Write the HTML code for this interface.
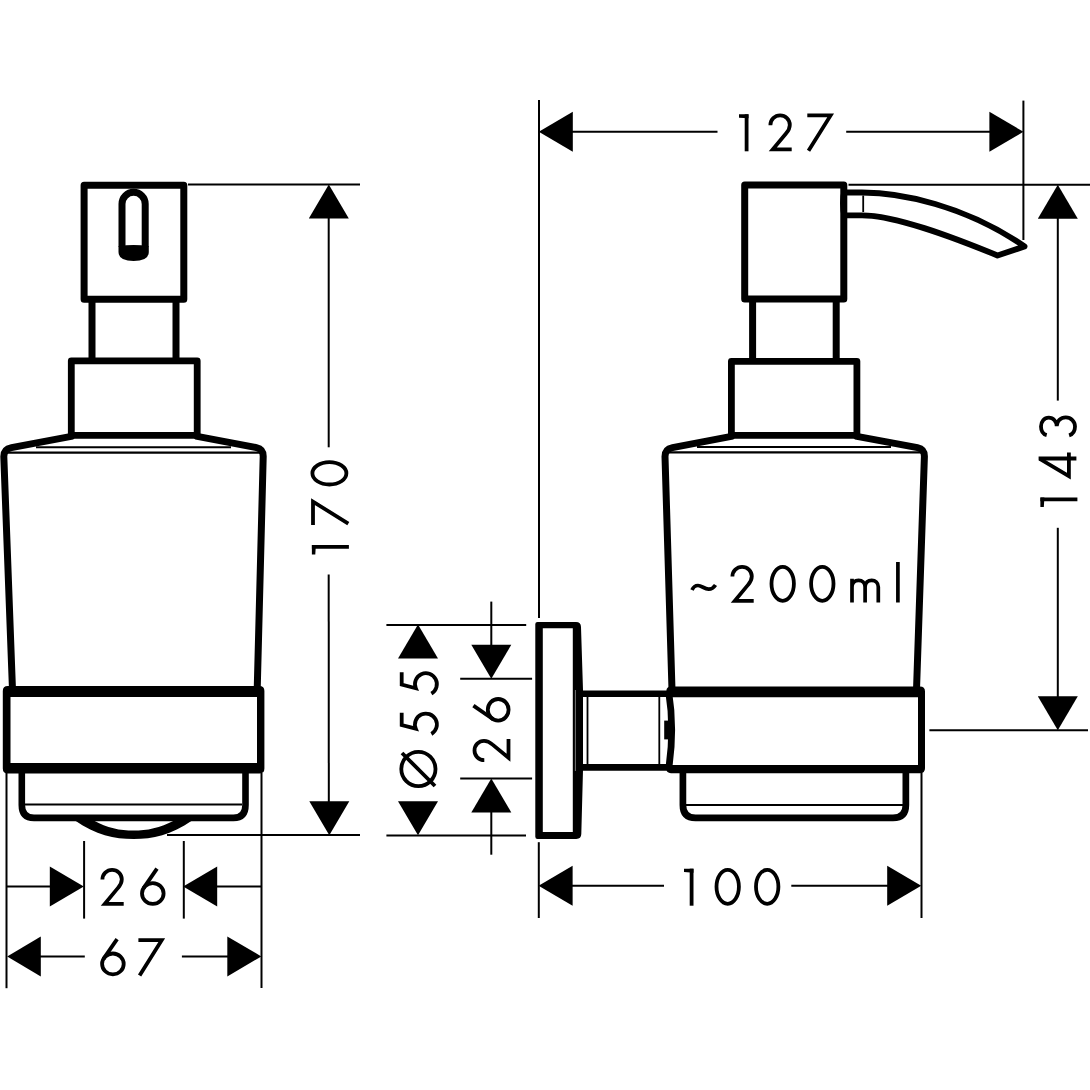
<!DOCTYPE html>
<html><head><meta charset="utf-8"><title>Soap dispenser drawing</title>
<style>
html,body{margin:0;padding:0;background:#fff;width:1090px;height:1090px;overflow:hidden;font-family:"Liberation Sans",sans-serif;}
svg{display:block;}
</style></head>
<body>
<svg width="1090" height="1090" viewBox="0 0 1090 1090" stroke="#000" stroke-linecap="butt" fill="none">
<rect x="0" y="0" width="1090" height="1090" fill="#fff" stroke="none"/>
<path d="M84.1,185.2 H183.8 V299.3 H84.1 Z" stroke-width="7.0" fill="none" stroke-linejoin="round"/>
<path d="M122,247 V203.9 A11.6,11.6 0 0 1 145.2,203.9 V247" stroke-width="7" fill="none" />
<path d="M118.5,246.3 Q133.6,243.6 148.8,246.3 V252 Q148.8,261 133.6,261 Q118.5,261 118.5,252 Z" stroke-width="0" fill="#000" stroke="none"/>
<line x1="92" y1="299" x2="92" y2="361" stroke-width="7.0"/>
<line x1="176" y1="299" x2="176" y2="361" stroke-width="7.0"/>
<path d="M71.3,435.3 V360.8 H197.2 V435.3 Z" stroke-width="6.8" fill="none" stroke-linejoin="round"/>
<path d="M71.3,436.4 L11.5,447.6 Q3.8,449 3.8,456.5 L12.5,690" stroke-width="7" fill="none" stroke-linecap="round"/>
<path d="M197.2,436.4 L256.5,447.6 Q263.3,449 263.2,456.5 L257.2,690" stroke-width="7" fill="none" stroke-linecap="round"/>
<line x1="36" y1="447.2" x2="231" y2="447.2" stroke-width="2.0"/>
<line x1="7" y1="452.6" x2="260" y2="452.6" stroke-width="2.2"/>
<path d="M7.8,686 H259.4 Q264.4,686 264.4,691 V768.5 Q264.4,773.5 259.4,773.5 H7.8 Q2.8,773.5 2.8,768.5 V691 Q2.8,686 7.8,686 Z M10.5,697 H257 V763 H10.5 Z" fill="#000" stroke="none" fill-rule="evenodd"/>
<path d="M21.8,772 V805 Q21.8,817.9 34,817.9 H233.5 Q245.5,817.9 245.5,805 V772" stroke-width="6.6" fill="none" />
<line x1="25" y1="804.6" x2="242" y2="804.6" stroke-width="2.0"/>
<path d="M75,820.5 C96,835 114,839 133.6,839 C153,839 171,835 192.1,820.5 L174.2,820.5 C160,828 147,830.6 133.6,830.6 C120,830.6 107,828 93.7,820.5 Z" stroke-width="0" fill="#000" stroke="none"/>
<line x1="188" y1="184.4" x2="360" y2="184.4" stroke-width="2.0"/>
<line x1="167" y1="835" x2="360" y2="835" stroke-width="2.0"/>
<polygon points="328.8,184.4 308.8,218.4 348.8,218.4" fill="#000" stroke="none"/>
<polygon points="329.3,835.2 309.3,801.2 349.3,801.2" fill="#000" stroke="none"/>
<line x1="328.7" y1="215" x2="328.7" y2="447.3" stroke-width="2.0"/>
<line x1="328.7" y1="574.5" x2="328.8" y2="805" stroke-width="2.0"/>
<g transform="translate(310.5,486.4) rotate(-90)" stroke-width="3.8" fill="none"><ellipse cx="13.1" cy="18.9" rx="11.2" ry="17.0"/></g>
<g transform="translate(311.1,524.9) rotate(-90)" stroke-width="3.8" fill="none"><path d="M0,1.9 H23.3 L1.2,37.2" stroke-linejoin="miter"/></g>
<g transform="translate(311.1,554.4) rotate(-90)" stroke-width="3.8" fill="none"><path d="M7.6,0.8 V37.8"/><polygon points="0,0.8 9.5,0.8 9.5,4.8 0,4.2" fill="#000" stroke="none"/></g>
<line x1="6.5" y1="773" x2="6.5" y2="988.2" stroke-width="2.0"/>
<line x1="261.5" y1="773" x2="261.5" y2="988" stroke-width="2.0"/>
<line x1="84.1" y1="841" x2="84.1" y2="918.6" stroke-width="2.0"/>
<line x1="183.8" y1="841" x2="183.8" y2="918.6" stroke-width="2.0"/>
<line x1="6.5" y1="886.5" x2="52" y2="886.5" stroke-width="2.0"/>
<polygon points="83.8,886.5 49.8,866.5 49.8,906.5" fill="#000" stroke="none"/>
<polygon points="183.2,886.5 217.2,866.5 217.2,906.5" fill="#000" stroke="none"/>
<line x1="215" y1="886.5" x2="261.5" y2="886.5" stroke-width="2.0"/>
<g transform="translate(100.5,867.9)" stroke-width="3.8" fill="none"><path d="M1.9,11.7 C1.9,6.1 6.3,1.9 11.6,1.9 C16.9,1.9 21.3,6.1 21.3,11.4 C21.3,14.9 19.7,17.5 17.5,20 L4.3,35.9 H23.2" stroke-linejoin="miter"/></g>
<g transform="translate(140.1,867.9)" stroke-width="3.8" fill="none"><ellipse cx="12.7" cy="25.6" rx="10.8" ry="10.4"/><path d="M16.9,0.8 L3.3,20.5"/></g>
<line x1="39" y1="956.4" x2="84.8" y2="956.4" stroke-width="2.0"/>
<line x1="181.9" y1="956.4" x2="229" y2="956.4" stroke-width="2.0"/>
<polygon points="7.2,956.4 40.8,936.4 40.8,976.4" fill="#000" stroke="none"/>
<polygon points="261.3,956.4 227.3,936.4 227.3,976.4" fill="#000" stroke="none"/>
<g transform="translate(100.2,938.3)" stroke-width="3.8" fill="none"><ellipse cx="12.7" cy="25.6" rx="10.8" ry="10.4"/><path d="M16.9,0.8 L3.3,20.5"/></g>
<g transform="translate(138.4,938.3)" stroke-width="3.8" fill="none"><path d="M0,1.9 H23.3 L1.2,37.2" stroke-linejoin="miter"/></g>
<line x1="386.4" y1="625.0" x2="526.2" y2="625.0" stroke-width="2.0"/>
<line x1="386.4" y1="835.6" x2="526.0" y2="835.6" stroke-width="2.0"/>
<polygon points="418.0,624.4 398.0,658.4 438.0,658.4" fill="#000" stroke="none"/>
<polygon points="418.0,835.2 398.0,801.2 438.0,801.2" fill="#000" stroke="none"/>
<g transform="translate(399.8,696.6) rotate(-90)" stroke-width="3.8" fill="none"><path d="M24.3,1.9 H12 L8.3,16 A10.95,10.95 0 1 1 3,31.6" stroke-linejoin="miter"/></g>
<g transform="translate(399.8,737.0) rotate(-90)" stroke-width="3.8" fill="none"><path d="M24.3,1.9 H12 L8.3,16 A10.95,10.95 0 1 1 3,31.6" stroke-linejoin="miter"/></g>
<circle cx="418.4" cy="769" r="17.1" stroke-width="3.8" fill="none"/>
<line x1="402.0" y1="753.0" x2="435.0" y2="786.0" stroke-width="3.8"/>
<line x1="460.2" y1="678.7" x2="532.1" y2="678.7" stroke-width="2.0"/>
<line x1="460.2" y1="778.4" x2="532.1" y2="778.4" stroke-width="2.0"/>
<line x1="491.3" y1="601.6" x2="491.3" y2="650" stroke-width="2.0"/>
<polygon points="491.3,678.7 471.3,644.7 511.3,644.7" fill="#000" stroke="none"/>
<polygon points="491.3,778.4 471.3,812.4 511.3,812.4" fill="#000" stroke="none"/>
<line x1="491.3" y1="808" x2="491.3" y2="854.7" stroke-width="2.0"/>
<g transform="translate(472.6,722.5) rotate(-90)" stroke-width="3.8" fill="none"><ellipse cx="12.7" cy="25.6" rx="10.8" ry="10.4"/><path d="M16.9,0.8 L3.3,20.5"/></g>
<g transform="translate(472.6,762.1) rotate(-90)" stroke-width="3.8" fill="none"><path d="M1.9,11.7 C1.9,6.1 6.3,1.9 11.6,1.9 C16.9,1.9 21.3,6.1 21.3,11.4 C21.3,14.9 19.7,17.5 17.5,20 L4.3,35.9 H23.2" stroke-linejoin="miter"/></g>
<path d="M535.3,624 Q535.3,621.9 537.5,621.9 H576 Q580.9,621.9 581,627 L583,690 L583,770 L581.3,834 Q581.2,838.9 576.3,838.9 H537.5 Q535.3,838.9 535.3,836.7 Z M542.8,628.2 H572.8 V831.9 H542.8 Z" fill="#000" stroke="none" fill-rule="evenodd"/>
<line x1="575.4" y1="690" x2="575.4" y2="771" stroke="#777" stroke-width="1"/>
<line x1="539.0" y1="100" x2="539.0" y2="618" stroke-width="2.0"/>
<line x1="538.8" y1="842.2" x2="538.8" y2="918" stroke-width="2.0"/>
<path d="M579,693.7 H668 M579,767.4 H668" stroke-width="6.6" fill="none" />
<line x1="587.5" y1="697" x2="587.5" y2="764" stroke-width="1.8"/>
<line x1="659.3" y1="697" x2="659.3" y2="764" stroke-width="1.8"/>
<path d="M744.7,185 H843.8 V299 H744.7 Z" stroke-width="7.0" fill="none" stroke-linejoin="round"/>
<line x1="752.6" y1="299" x2="752.6" y2="361" stroke-width="7.0"/>
<line x1="836.2" y1="299" x2="836.2" y2="361" stroke-width="7.0"/>
<path d="M731.4,435.3 V361.3 H856.9 V435.3 Z" stroke-width="6.8" fill="none" stroke-linejoin="round"/>
<path d="M731.4,436.4 L672.5,447.6 Q665,449 665,456.5 L672,690" stroke-width="7" fill="none" stroke-linecap="round"/>
<path d="M856.9,436.4 L917.5,447.6 Q924.5,449 924.4,456.5 L916.5,690" stroke-width="7" fill="none" stroke-linecap="round"/>
<line x1="697" y1="447.0" x2="891" y2="447.0" stroke-width="2.0"/>
<line x1="668" y1="452.4" x2="921" y2="452.4" stroke-width="2.2"/>
<path d="M671,686.4 H920 Q925,686.4 925,691.4 V768.2 Q925,773.2 920,773.2 H671 Q666.4,773.2 666.4,768.6 V765 H918 V697.2 H666.4 V691 Q666.4,686.4 671,686.4 Z" fill="#000" stroke="none" fill-rule="evenodd"/>
<path d="M668.6,691 Q674.8,729.5 668.6,769" stroke-width="6.8" fill="none" />
<rect x="664.2" y="720.6" width="5.5" height="18.8" fill="#000" stroke="none"/>
<path d="M682.9,772 V805 Q682.9,817.85 695.5,817.85 H893 Q905.85,817.85 905.85,805 V772" stroke-width="6.7" fill="none" />
<line x1="686" y1="805.1" x2="903" y2="805.1" stroke-width="2.0"/>
<path d="M844,192.5 H862 C900,192.5 965,205 1024.5,246.5 L997.5,255.5 C950,236 895,215.3 862,215.3 H844" stroke-width="5.8" fill="none" stroke-linejoin="round"/>
<path d="M844.5,189 Q840.5,203.5 844.5,218" stroke-width="5" fill="none" />
<line x1="863.2" y1="195.5" x2="863.2" y2="212" stroke-width="1.8"/>
<path d="M692,590 C693.5,586.5 695.5,585.5 698,585.5 C701.5,585.5 704.5,589 708.5,589.2 C711.5,589.3 713.5,588 715.5,585" stroke-width="3.7" fill="none" />
<g transform="translate(730.5,564.9)" stroke-width="3.8" fill="none"><path d="M1.9,11.7 C1.9,6.1 6.3,1.9 11.6,1.9 C16.9,1.9 21.3,6.1 21.3,11.4 C21.3,14.9 19.7,17.5 17.5,20 L4.3,35.9 H23.2" stroke-linejoin="miter"/></g>
<g transform="translate(769.6,564.9)" stroke-width="3.8" fill="none"><ellipse cx="13.1" cy="18.9" rx="11.2" ry="17.0"/></g>
<g transform="translate(809.2,564.9)" stroke-width="3.8" fill="none"><ellipse cx="13.1" cy="18.9" rx="11.2" ry="17.0"/></g>
<path d="M852,602.5 V578.7 M852,587 C852,582.4 855,580.4 858.6,580.4 C862.2,580.4 865.1,582.6 865.1,587 V602.5 M865.1,587 C865.1,582.4 868.1,580.4 871.7,580.4 C875.3,580.4 878.3,582.6 878.3,587 V602.5" stroke-width="3.7" fill="none" />
<line x1="897.9" y1="562" x2="897.9" y2="602.5" stroke-width="3.7"/>
<line x1="1023.4" y1="100.6" x2="1023.4" y2="240" stroke-width="2.0"/>
<line x1="570" y1="131.8" x2="717.5" y2="131.8" stroke-width="2.0"/>
<line x1="846.2" y1="131.8" x2="992" y2="131.8" stroke-width="2.0"/>
<polygon points="538.8,131.8 572.8,111.8 572.8,151.8" fill="#000" stroke="none"/>
<polygon points="1023.4,131.8 989.4,111.8 989.4,151.8" fill="#000" stroke="none"/>
<g transform="translate(739.0,113.5)" stroke-width="3.8" fill="none"><path d="M7.6,0.8 V37.8"/><polygon points="0,0.8 9.5,0.8 9.5,4.8 0,4.2" fill="#000" stroke="none"/></g>
<g transform="translate(768.5,113.5)" stroke-width="3.8" fill="none"><path d="M1.9,11.7 C1.9,6.1 6.3,1.9 11.6,1.9 C16.9,1.9 21.3,6.1 21.3,11.4 C21.3,14.9 19.7,17.5 17.5,20 L4.3,35.9 H23.2" stroke-linejoin="miter"/></g>
<g transform="translate(807.3,113.5)" stroke-width="3.8" fill="none"><path d="M0,1.9 H23.3 L1.2,37.2" stroke-linejoin="miter"/></g>
<line x1="848.5" y1="184.8" x2="1090" y2="184.8" stroke-width="2.0"/>
<line x1="929.4" y1="730.3" x2="1088" y2="730.3" stroke-width="2.0"/>
<polygon points="1057.8,184.8 1037.8,218.8 1077.8,218.8" fill="#000" stroke="none"/>
<polygon points="1057.8,730.3 1037.8,696.3 1077.8,696.3" fill="#000" stroke="none"/>
<line x1="1057.8" y1="215" x2="1057.8" y2="400.6" stroke-width="2.0"/>
<line x1="1057.8" y1="527.8" x2="1057.8" y2="700" stroke-width="2.0"/>
<g transform="translate(1039.1,437.3) rotate(-90)" stroke-width="3.8" fill="none"><path d="M2.2,7.6 C3.2,3.8 6.6,1.9 10.8,1.9 C15.6,1.9 19.6,5.1 19.6,9.7 C19.6,14.3 15.6,17.6 11,17.6 C16,17.6 19.9,21.5 19.9,26.7 C19.9,31.9 15.9,35.9 10.8,35.9 C6.5,35.9 3,33.6 1.9,30"/></g>
<g transform="translate(1038.6,479.7) rotate(-90)" stroke-width="3.8" fill="none"><path d="M21.2,0 V37.8"/><path d="M27.3,30.3 H3.5 L20.8,1.2" stroke-linejoin="miter"/></g>
<g transform="translate(1039.6,506.9) rotate(-90)" stroke-width="3.8" fill="none"><path d="M7.6,0.8 V37.8"/><polygon points="0,0.8 9.5,0.8 9.5,4.8 0,4.2" fill="#000" stroke="none"/></g>
<line x1="921.5" y1="773" x2="921.5" y2="918" stroke-width="2.0"/>
<line x1="570" y1="885.8" x2="664" y2="885.8" stroke-width="2.0"/>
<line x1="791.3" y1="885.8" x2="890" y2="885.8" stroke-width="2.0"/>
<polygon points="538.6,885.8 572.6,865.8 572.6,905.8" fill="#000" stroke="none"/>
<polygon points="921.2,885.8 887.2,865.8 887.2,905.8" fill="#000" stroke="none"/>
<g transform="translate(684.0,867.9)" stroke-width="3.8" fill="none"><path d="M7.6,0.8 V37.8"/><polygon points="0,0.8 9.5,0.8 9.5,4.8 0,4.2" fill="#000" stroke="none"/></g>
<g transform="translate(714.6,867.9)" stroke-width="3.8" fill="none"><ellipse cx="13.1" cy="18.9" rx="11.2" ry="17.0"/></g>
<g transform="translate(754.1,867.9)" stroke-width="3.8" fill="none"><ellipse cx="13.1" cy="18.9" rx="11.2" ry="17.0"/></g>
</svg>
</body></html>
